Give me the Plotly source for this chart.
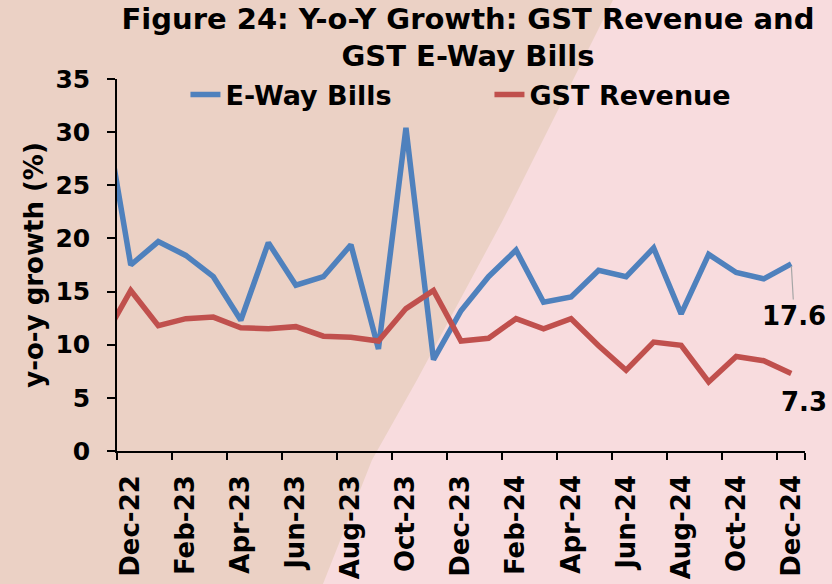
import plotly.graph_objects as go

# ---- data ----
months = ["Nov-22", "Dec-22", "Jan-23", "Feb-23", "Mar-23", "Apr-23", "May-23", "Jun-23",
          "Jul-23", "Aug-23", "Sep-23", "Oct-23", "Nov-23", "Dec-23", "Jan-24", "Feb-24",
          "Mar-24", "Apr-24", "May-24", "Jun-24", "Jul-24", "Aug-24", "Sep-24", "Oct-24",
          "Nov-24", "Dec-24"]
eway_bills = [32.7, 17.5, 19.7, 18.4, 16.4, 12.3, 19.6, 15.6, 16.4, 19.4, 9.6, 30.4, 8.6,
              13.2, 16.4, 18.9, 14.0, 14.5, 17.0, 16.4, 19.1, 12.9, 18.5, 16.8, 16.2, 17.6]
gst_revenue = [10.5, 15.1, 11.8, 12.45, 12.6, 11.6, 11.5, 11.7, 10.8, 10.7, 10.35, 13.4, 15.1,
               10.35, 10.6, 12.45, 11.5, 12.45, 9.9, 7.6, 10.25, 9.95, 6.5, 8.9, 8.5, 7.3]
tick_labels = ["Dec-22", "Feb-23", "Apr-23", "Jun-23", "Aug-23", "Oct-23", "Dec-23",
               "Feb-24", "Apr-24", "Jun-24", "Aug-24", "Oct-24", "Dec-24"]
y_ticks = [0, 5, 10, 15, 20, 25, 30, 35]

FONT = "DejaVu Sans"
BLUE = "#4F81BD"
RED = "#C0504D"
TAN = "#EBD1C5"
PINK = "#F8DCDE"

fig = go.Figure()
fig.add_trace(go.Scatter(x=months, y=eway_bills, mode="lines", name="E-Way Bills",
                         line=dict(color=BLUE, width=5.5)))
fig.add_trace(go.Scatter(x=months, y=gst_revenue, mode="lines", name="GST Revenue",
                         line=dict(color=RED, width=5.5)))

# end-point data labels
fig.add_annotation(x=months[-1], y=eway_bills[-1], text=f"{eway_bills[-1]:.1f}",
                   showarrow=True, arrowhead=0, arrowwidth=1.2, arrowcolor="#A6A6A6",
                   ax=3, ay=52, standoff=2,
                   font=dict(family=FONT, size=26, color="black", weight="bold"))
fig.add_annotation(x=months[-1], y=gst_revenue[-1], text=f"{gst_revenue[-1]:.1f}",
                   showarrow=False, xshift=13, yshift=-29,
                   font=dict(family=FONT, size=26, color="black", weight="bold"))

# diagonal background split (decorative)
pts = [(613, 0), (503, 220), (417, 380), (372, 460), (323, 584), (832, 584), (832, 0)]
L, R, T, B = 117, 805, 79, 451
def px2paper(p):
    return ((p[0] - L) / (R - L), (B - p[1]) / (B - T))
path = "M " + " L ".join(f"{x:.4f},{y:.4f}" for x, y in map(px2paper, pts)) + " Z"
fig.add_shape(type="path", path=path, xref="paper", yref="paper", layer="below",
              fillcolor=PINK, line=dict(width=0))

fig.update_layout(
    width=832, height=584,
    margin=dict(l=L, r=832 - R, t=T, b=584 - B, autoexpand=False),
    paper_bgcolor=TAN, plot_bgcolor="rgba(0,0,0,0)",
    title=dict(text="Figure 24: Y-o-Y Growth: GST Revenue and<br>GST E-Way Bills",
               x=0.5625, xanchor="center", y=0.951, yanchor="top",
               font=dict(family=FONT, size=29, color="black", weight="bold")),
    showlegend=True,
    legend=dict(orientation="h", x=0.0995, xanchor="left", y=0.957, yanchor="middle",
                bgcolor="rgba(0,0,0,0)", entrywidth=259, entrywidthmode="pixels",
                font=dict(family=FONT, size=27, color="black", weight="bold")),
    xaxis=dict(type="category", range=[0.5, len(months) - 0.5],
               tickvals=tick_labels, ticktext=tick_labels, tickson="boundaries",
               tickangle=-90, ticks="outside", ticklen=7, tickwidth=1.5, tickcolor="black",
               showline=True, linecolor="black", linewidth=1.5, showgrid=False,
               zeroline=False, ticklabelstandoff=12,
               tickfont=dict(family=FONT, size=26, color="black", weight="bold")),
    yaxis=dict(range=[0, 35], tickvals=y_ticks, ticks="outside", ticklen=8, tickwidth=1.5,
               tickcolor="black", showline=True, linecolor="black", linewidth=1.5,
               showgrid=False, zeroline=False, ticklabelstandoff=12,
               tickfont=dict(family=FONT, size=25, color="black", weight="bold"),
               title=dict(text="y-o-y growth (%)", standoff=4,
                          font=dict(family=FONT, size=26, color="black", weight="bold"))),
)

fig.write_html("out.html", config={"displayModeBar": False},
               post_script="document.body.style.margin='0';")
